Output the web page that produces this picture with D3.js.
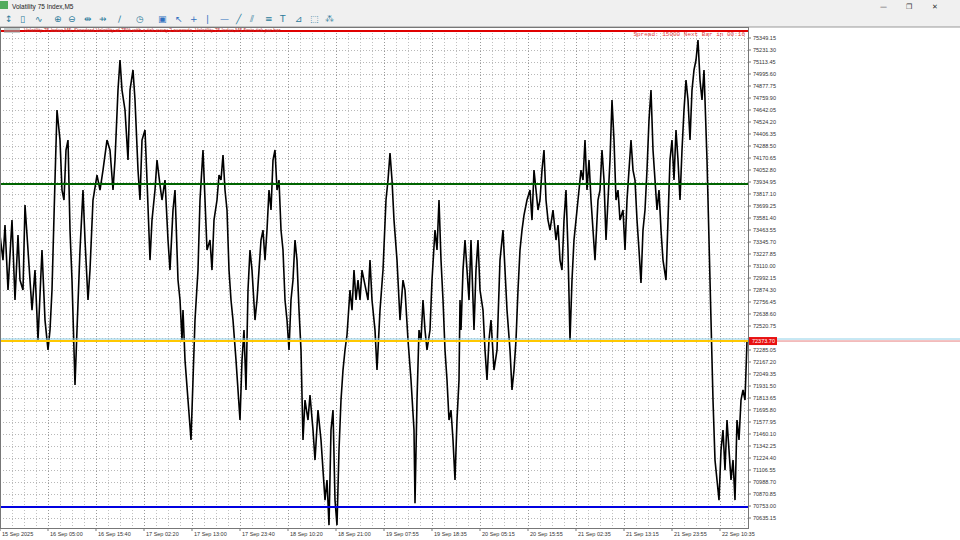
<!DOCTYPE html>
<html><head><meta charset="utf-8">
<script src="https://cdn.jsdelivr.net/npm/d3@7"></script>
<style>body{margin:0;background:#fff;overflow:hidden}svg{display:block}</style>
</head><body><svg id="c" width="960" height="540"></svg>
<script>
const title = "Volatility 75 Index,M5";
const priceTicks = [75349.15,75231.30,75113.45,74995.60,74877.75,74759.90,74642.05,74524.20,74406.35,74288.50,74170.65,74052.80,73934.95,73817.10,73699.25,73581.40,73463.55,73345.70,73227.85,73110.00,72992.15,72874.30,72756.45,72638.60,72520.75,72402.90,72285.05,72167.20,72049.35,71931.50,71813.65,71695.80,71577.95,71460.10,71342.25,71224.40,71106.55,70988.70,70870.85,70753.00,70635.15];
const timeLabels = ["15 Sep 2025","16 Sep 05:00","16 Sep 15:40","17 Sep 02:20","17 Sep 13:00","17 Sep 23:40","18 Sep 10:20","18 Sep 21:00","19 Sep 07:55","19 Sep 18:35","20 Sep 05:15","20 Sep 15:55","21 Sep 02:35","21 Sep 13:15","21 Sep 23:55","22 Sep 10:35"];
const timeLabelBars = [0,48,96,144,192,240,288,336,384,432,480,528,576,624,672,720];
const bars = [0,3,5,8,12,15,18,20,23,25,28,32,35,38,42,45,48,50,52,55,57,60,62,64,66,68,70,72,75,77,80,83,85,88,90,93,97,100,103,107,110,113,115,118,120,122,125,128,130,133,135,138,140,142,145,147,150,152,155,157,160,162,165,168,170,173,175,178,180,182,183,185,188,191,193,195,198,200,203,205,207,210,212,214,217,219,221,223,225,227,229,231,233,236,238,240,242,244,246,248,250,252,255,257,259,261,263,265,267,269,271,273,275,277,279,281,283,285,287,289,291,293,295,297,299,301,303,305,308,310,313,315,318,321,323,325,327,329,331,333,335,337,339,341,343,345,347,350,352,354,
356,358,360,362,365,368,370,372,375,377,380,383,386,388,390,392,394,397,400,403,405,408,411,414,415,417,419,421,423,425,427,
430,432,435,437,439,441,443,445,447,449,451,453,455,457,459,460,461,463,465,467,469,471,474,476,478,480,483,485,487,489,491,494,497,500,503,505,507,510,512,514,516,518,520,522,524,527,530,532,534,536,538,540,542,544,546,548,550,553,556,
558,560,562,564,566,568,570,572,574,576,578,581,583,585,587,589,591,593,595,598,600,602,604,606,608,610,612,614,616,618,620,623,625,627,629,631,633,635,637,639,641,643,645,647,649,651,653,655,657,659,661,663,666,668,670,672,674,676,678,680,682,684,686,688,690,692,694,696,
698,700,702,704,706,707,709,711,713,715,717,719,721,723,725,727,729,731,733,735,737,739,741,743,745,747];
const closes = [73414,73168,73512,72874,73561,72776,73414,72972,72874,73709,73267,72677,73070,72383,73267,72579,72285,72481,72874,73954,74642,74347,73856,73758,74249,74347,73463,72972,71941,72481,73267,73856,73365,72776,73070,73758,74003,73856,74052,74347,74249,73856,74151,74838,75133,74838,74642,74151,74838,75035,74740,74052,73758,74347,74445,73954,73168,73561,73856,74151,73905,73758,73954,73365,73070,73660,73856,72972,72776,72383,72677,72186,71794,71401,71990,72579,73070,73758,74249,73758,73267,73365,73070,73561,73758,74003,73954,74200,73856,73660,73070,72776,72579,72186,71892,71597,72186,72481,71892,72874,73267,73070,72579,72776,73070,73365,73463,73168,73463,73856,73660,74151,74249,73856,73954,73463,73267,72776,72579,72285,72776,72972,73365,73168,72677,72285,71401,71794,71597,71843,71499,71204,71695,71401,71105,70811,71008,70565,71499,71695,70811,70565,71302,71794,72088,72285,72432,72874,72677,73070,
72776,72972,72776,73070,72923,72776,73168,72776,72481,72088,72677,73070,73758,73954,74219,73954,73561,73168,72579,72972,72874,72383,71990,71499,70781,71794,72481,72383,72776,72481,72285,
72481,72972,73463,73267,73758,73168,72776,72285,71990,71597,71695,71401,71008,71597,71990,72776,72481,73070,73365,73070,72776,73365,72481,73070,73365,72874,72677,72285,71990,72383,72579,72088,72285,73168,73463,73070,72677,72285,71892,72088,72383,72874,73267,73463,73610,73758,73856,73561,74052,73856,73660,73758,74052,74249,73758,73561,73463,73660,73365,
73512,73168,73070,73561,73856,73267,72383,72972,73365,73561,73758,74052,73954,74347,73856,74151,73758,73463,73168,73758,73856,74249,73954,73365,73758,74151,74740,74347,73758,73856,73561,73660,73267,73758,74052,74347,74052,73954,73561,73267,72943,73463,73660,74052,74543,74838,74249,73954,73660,73856,73463,73168,72972,73561,74151,74347,73954,74445,74151,73758,74249,74642,74936,74740,74347,74838,75035,75133,
75329,74936,74740,75035,74445,74151,73365,72579,71794,71204,71008,70811,71302,71499,71105,71597,71302,71008,71204,70811,71597,71401,71794,71892,71794,72373];
const lineLevels = [75418, 73915, 72373, 70743];
const lineColors = ["#e00000","#006400","#ffc800","#0000e0"];
const bid = 72373, ask = 72393;
const bidLabel = "72373.70";
const spreadText = "Spread: 15000 Next Bar in 00:16";

const svg = d3.select("#c");
const L=0, R=748, T=27, B=528;
const x = d3.scaleLinear().domain([0,748]).range([L,R]);
const y = d3.scaleLinear().domain([70635.15,75349.15]).range([518,38]);

svg.append("rect").attr("width",960).attr("height",27).attr("fill","#f0f0f0");
svg.append("rect").attr("x",0).attr("y",1).attr("width",8).attr("height",8).attr("fill","#2a9a3a").attr("opacity",0.8);
svg.append("text").attr("x",12).attr("y",8.5).attr("font-family","Liberation Sans, Arial").attr("font-size",6.5).attr("fill","#222").text(title);
const win = ["—","❐","✕"];
win.forEach((t,i)=>svg.append("text").attr("x",880+i*26).attr("y",8.5).attr("font-size",7).attr("fill","#333").attr("font-family","DejaVu Sans").text(t));
const icons = ["↕","▯","∿","⊕","⊖","⇹","⇸","∕","◷","▣","↖","+","|","—","╱","⫽","≡","T","⊿","⬚","⁂"];
const icx = [5,20,35,54,68,84,99,118,136,158,175,190,206,220,236,250,265,280,295,310,325];
icons.forEach((t,i)=>svg.append("text").attr("x",icx[i]).attr("y",22).attr("font-size",9).attr("font-family","DejaVu Sans").attr("fill", i<9||i>13?"#2a7a9a":"#3070c0").text(t));
svg.append("line").attr("x1",0).attr("x2",960).attr("y1",27).attr("y2",27).attr("stroke","#999");

const g = svg.append("g");
priceTicks.forEach(p=>g.append("line").attr("x1",L).attr("x2",R).attr("y1",Math.round(y(p))+.5).attr("y2",Math.round(y(p))+.5).attr("stroke","#b8b8b8").attr("stroke-dasharray","1,2"));
d3.range(0,748,12).forEach(b=>g.append("line").attr("x1",Math.round(x(b))+.5).attr("x2",Math.round(x(b))+.5).attr("y1",T).attr("y2",B).attr("stroke", timeLabelBars.includes(b)?"#999":"#c0c0c0").attr("stroke-dasharray","1,2"));

const pts = bars.map((b,i)=>[b,closes[i]]);
svg.append("path").datum(pts).attr("fill","none").attr("stroke","#000").attr("stroke-width",1.6)
  .attr("d", d3.line().x(d=>x(d[0])).y(d=>y(d[1])));

lineLevels.forEach((v,i)=>svg.append("line").attr("x1",L).attr("x2",R).attr("y1",y(v)).attr("y2",y(v)).attr("stroke",lineColors[i]).attr("stroke-width",2));
svg.append("line").attr("x1",L).attr("x2",960).attr("y1",y(ask)).attr("y2",y(ask)).attr("stroke","#8fd0e8").attr("stroke-width",1);
svg.append("line").attr("x1",R).attr("x2",960).attr("y1",y(bid)).attr("y2",y(bid)).attr("stroke","#e06060").attr("stroke-width",0.8);

svg.append("rect").attr("x",0.5).attr("y",T+0.5).attr("width",R).attr("height",B-T).attr("fill","none").attr("stroke","#777");

priceTicks.forEach(p=>{
  svg.append("line").attr("x1",R).attr("x2",R+3).attr("y1",y(p)).attr("y2",y(p)).attr("stroke","#777");
  if (Math.abs(y(p)-y(bid))<7) return;
  svg.append("text").attr("x",R+5).attr("y",y(p)+2).attr("font-family","Liberation Sans, Arial").attr("font-size",5.5).attr("fill","#333").text(p.toFixed(2));
});
svg.append("rect").attr("x",R+1).attr("y",y(bid)-4).attr("width",28).attr("height",8).attr("fill","#e81010");
svg.append("text").attr("x",R+4).attr("y",y(bid)+2).attr("font-family","Liberation Sans, Arial").attr("font-size",5.5).attr("fill","#fff").text(bidLabel);

timeLabels.forEach((t,i)=>{
  svg.append("line").attr("x1",x(timeLabelBars[i])).attr("x2",x(timeLabelBars[i])).attr("y1",B).attr("y2",B+3).attr("stroke","#777");
  svg.append("text").attr("x",x(timeLabelBars[i])+2).attr("y",536).attr("font-family","Liberation Sans, Arial").attr("font-size",5.5).attr("fill","#333").text(t);
});

svg.append("text").attr("x",R-3).attr("y",36).attr("text-anchor","end").attr("font-family","Liberation Mono, Courier New").attr("font-size",6).attr("fill","#e04040").text(spreadText);
svg.append("text").attr("x",24).attr("y",32).attr("font-family","Liberation Sans, Arial").attr("font-size",5).attr("fill","#c03030").text("Volatility 75 Index,M5: Standard Volatility of 75% with a tick every 2 seconds. Volatility 75 Index,M5 5min tick per bar");
svg.append("rect").attr("x",4).attr("y",28).attr("width",16).attr("height",5).attr("fill","#9aa").attr("opacity",0.6);
</script></body></html>
